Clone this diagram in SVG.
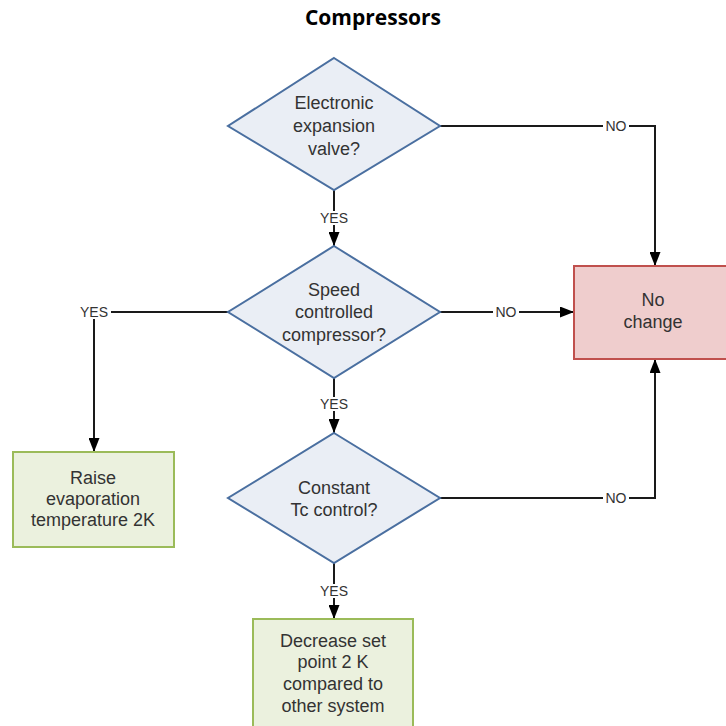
<svg xmlns="http://www.w3.org/2000/svg" width="726" height="726" viewBox="0 0 726 726">
  <style>
    .title { font-family: "Open Sans", "Liberation Sans", sans-serif; font-weight: bold; font-size: 21px; fill: #000; }
    .dec { fill: #eaeef5; stroke: #4a6fa0; stroke-width: 2; }
    .act { fill: #ebf1de; stroke: #9bbb59; stroke-width: 2; }
    .end { fill: #efcdcd; stroke: #c0504d; stroke-width: 2; }
    .txt { font-family: "Liberation Sans", Arial, sans-serif; font-size: 18px; fill: #333; text-anchor: middle; }
    .lbl { font-family: "Liberation Sans", Arial, sans-serif; font-size: 14px; fill: #333; text-anchor: middle; }
    .lblbg { fill: #fff; }
    .wire { fill: none; stroke: #1a1a1a; stroke-width: 2; }
  </style>
  <defs>
    <marker id="arrow" viewBox="0 0 14 11" refX="14" refY="5.5" markerWidth="14" markerHeight="11" markerUnits="userSpaceOnUse" orient="auto">
      <path d="M0,0 L14,5.5 L0,11 Z" fill="#000"/>
    </marker>
  </defs>

  <rect width="726" height="726" fill="#fff"/>

  <text class="title" x="373" y="25" text-anchor="middle">Compressors</text>

  <g id="connectors">
    <path class="wire" d="M440,126 H655 V266" marker-end="url(#arrow)"/>
    <path class="wire" d="M334,190 V246" marker-end="url(#arrow)"/>
    <path class="wire" d="M440,312 H574" marker-end="url(#arrow)"/>
    <path class="wire" d="M228,312 H94 V452" marker-end="url(#arrow)"/>
    <path class="wire" d="M334,378 V433" marker-end="url(#arrow)"/>
    <path class="wire" d="M440,498 H655 V359" marker-end="url(#arrow)"/>
    <path class="wire" d="M334,563 V619" marker-end="url(#arrow)"/>

    <rect class="lblbg" x="603" y="119" width="26" height="14"/>
    <text class="lbl" x="616" y="131">NO</text>
    <rect class="lblbg" x="317" y="211" width="34" height="14"/>
    <text class="lbl" x="334" y="223">YES</text>
    <rect class="lblbg" x="493" y="305" width="26" height="14"/>
    <text class="lbl" x="506" y="317">NO</text>
    <rect class="lblbg" x="77" y="305" width="34" height="14"/>
    <text class="lbl" x="94" y="317">YES</text>
    <rect class="lblbg" x="317" y="397" width="34" height="14"/>
    <text class="lbl" x="334" y="409">YES</text>
    <rect class="lblbg" x="603" y="491" width="26" height="14"/>
    <text class="lbl" x="616" y="503">NO</text>
    <rect class="lblbg" x="317" y="584" width="34" height="14"/>
    <text class="lbl" x="334" y="596">YES</text>
  </g>

  <g id="electronic-valve">
    <polygon class="dec" points="334,58 440,126 334,190 228,126"/>
    <text class="txt" x="334" y="109">Electronic</text>
    <text class="txt" x="334" y="132">expansion</text>
    <text class="txt" x="334" y="155">valve?</text>
  </g>

  <g id="speed-controlled">
    <polygon class="dec" points="334,246 440,312 334,378 228,312"/>
    <text class="txt" x="334" y="296">Speed</text>
    <text class="txt" x="334" y="318">controlled</text>
    <text class="txt" x="334" y="341">compressor?</text>
  </g>

  <g id="constant-tc">
    <polygon class="dec" points="334,433 440,498 334,563 228,498"/>
    <text class="txt" x="334" y="494">Constant</text>
    <text class="txt" x="334" y="516">Tc control?</text>
  </g>

  <g id="no-change">
    <rect class="end" x="574" y="266" width="160" height="93"/>
    <text class="txt" x="653" y="306">No</text>
    <text class="txt" x="653" y="328">change</text>
  </g>

  <g id="raise-evaporation">
    <rect class="act" x="13" y="452" width="161" height="95"/>
    <text class="txt" x="93" y="484">Raise</text>
    <text class="txt" x="93" y="505">evaporation</text>
    <text class="txt" x="93" y="526">temperature 2K</text>
  </g>

  <g id="decrease-setpoint">
    <rect class="act" x="253" y="619" width="160" height="120"/>
    <text class="txt" x="333" y="647">Decrease set</text>
    <text class="txt" x="333" y="668">point 2 K</text>
    <text class="txt" x="333" y="690">compared to</text>
    <text class="txt" x="333" y="712">other system</text>
  </g>
</svg>
